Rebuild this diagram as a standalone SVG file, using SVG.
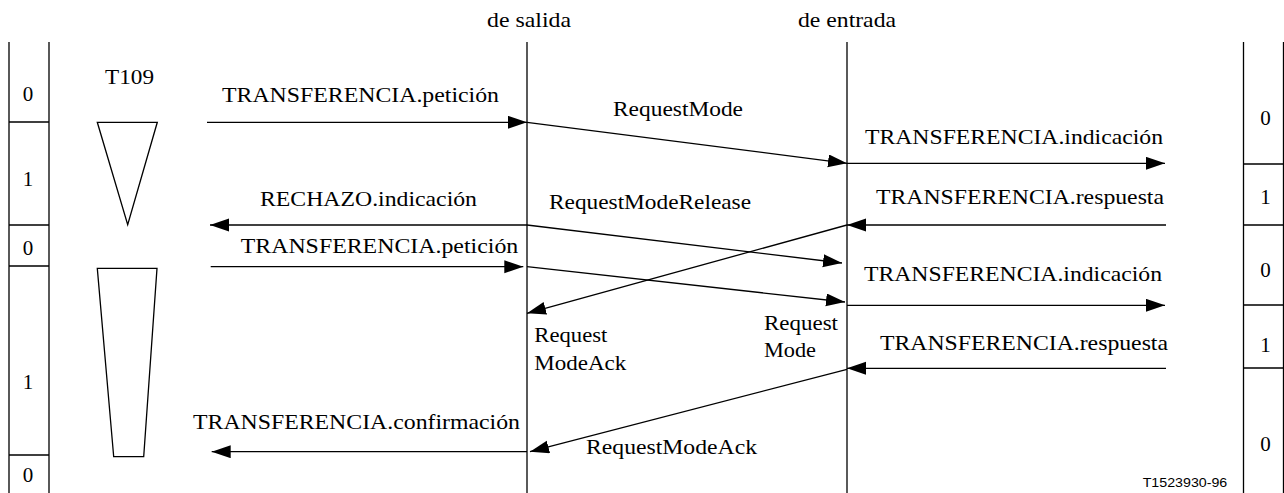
<svg xmlns="http://www.w3.org/2000/svg" width="1284" height="493" viewBox="0 0 1284 493">
<style>
  .ln{stroke:#000;stroke-width:1.3;fill:none}
  .ar{stroke:#000;stroke-width:1.3;fill:none;marker-end:url(#ah)}
  .m{text-anchor:middle}
</style>
<defs>
  <marker id="ah" markerUnits="userSpaceOnUse" markerWidth="20" markerHeight="14" refX="19" refY="6.5" orient="auto">
    <path d="M0,0 L19,6.5 L0,13 z" fill="#000"/>
  </marker>
</defs>
<rect width="1284" height="493" fill="#fff"/>

<g id="left-states" font-family="Liberation Serif, DejaVu Serif, Noto Serif, serif" font-size="21" fill="#000">
  <path class="ln" d="M9,42 V493 M49,42 V493 M9,122 H49 M9,225 H49 M9,266 H49 M9,455 H49"/>
  <text class="m" x="28" y="101">0</text>
  <text class="m" x="28" y="186">1</text>
  <text class="m" x="28" y="255">0</text>
  <text class="m" x="28" y="389">1</text>
  <text class="m" x="28" y="482">0</text>
</g>

<g id="right-states" font-family="Liberation Serif, DejaVu Serif, Noto Serif, serif" font-size="21" fill="#000">
  <path class="ln" d="M1243.5,42 V493 M1283.5,42 V493 M1243.5,164 H1284 M1243.5,225 H1284 M1243.5,305 H1284 M1243.5,368 H1284"/>
  <text class="m" x="1265.5" y="125">0</text>
  <text class="m" x="1265.5" y="204">1</text>
  <text class="m" x="1265.5" y="277">0</text>
  <text class="m" x="1265.5" y="352">1</text>
  <text class="m" x="1265.5" y="451">0</text>
</g>

<g id="timer-T109" font-family="Liberation Serif, DejaVu Serif, Noto Serif, serif" font-size="21" fill="#000">
  <text x="105" y="84" textLength="49" lengthAdjust="spacingAndGlyphs">T109</text>
  <path class="ln" d="M97.3,122.3 L157.3,122.3 L127.7,224.7 Z"/>
  <path class="ln" d="M97.3,268.3 L157,268.3 L143.7,456.7 L113.7,456.7 Z"/>
</g>

<g id="lifeline-salida" font-family="Liberation Serif, DejaVu Serif, Noto Serif, serif" font-size="21" fill="#000">
  <text x="487" y="27" textLength="84" lengthAdjust="spacingAndGlyphs">de salida</text>
  <path class="ln" d="M527,42 V493"/>
</g>

<g id="lifeline-entrada" font-family="Liberation Serif, DejaVu Serif, Noto Serif, serif" font-size="21" fill="#000">
  <text x="798" y="27" textLength="98" lengthAdjust="spacingAndGlyphs">de entrada</text>
  <path class="ln" d="M847,42 V493"/>
</g>

<g id="connectors">
  <path class="ar" d="M207,122.3 H527"/>
  <path class="ar" d="M527,122.3 L847,163.3"/>
  <path class="ar" d="M847,163.3 H1165"/>
  <path class="ar" d="M1166,225 H847"/>
  <path class="ar" d="M847,225 L527,313.3"/>
  <path class="ar" d="M527,225 H210"/>
  <path class="ar" d="M527,225 L842,263"/>
  <path class="ar" d="M210.7,266.7 H523.3"/>
  <path class="ar" d="M527,266.7 L845,302"/>
  <path class="ar" d="M847,305.3 H1165"/>
  <path class="ar" d="M1166,368.3 H847"/>
  <path class="ar" d="M847,369.3 L530,451.7"/>
  <path class="ar" d="M527,451.7 H211.7"/>
</g>

<g id="labels" font-family="Liberation Serif, DejaVu Serif, Noto Serif, serif" font-size="21" fill="#000">
  <text x="222" y="101.5" textLength="277" lengthAdjust="spacingAndGlyphs">TRANSFERENCIA.petición</text>
  <text x="613" y="116" textLength="130" lengthAdjust="spacingAndGlyphs">RequestMode</text>
  <text x="865" y="144" textLength="298" lengthAdjust="spacingAndGlyphs">TRANSFERENCIA.indicación</text>
  <text x="260" y="205.5" textLength="217" lengthAdjust="spacingAndGlyphs">RECHAZO.indicación</text>
  <text x="549" y="209" textLength="202" lengthAdjust="spacingAndGlyphs">RequestModeRelease</text>
  <text x="876" y="204" textLength="288" lengthAdjust="spacingAndGlyphs">TRANSFERENCIA.respuesta</text>
  <text x="240.7" y="252.7" textLength="277.6" lengthAdjust="spacingAndGlyphs">TRANSFERENCIA.petición</text>
  <text x="864" y="281" textLength="298" lengthAdjust="spacingAndGlyphs">TRANSFERENCIA.indicación</text>
  <text x="764" y="330" textLength="74" lengthAdjust="spacingAndGlyphs">Request</text>
  <text x="764" y="357" textLength="52" lengthAdjust="spacingAndGlyphs">Mode</text>
  <text x="534.3" y="341.7" textLength="73" lengthAdjust="spacingAndGlyphs">Request</text>
  <text x="534.3" y="370" textLength="92" lengthAdjust="spacingAndGlyphs">ModeAck</text>
  <text x="880" y="350" textLength="288" lengthAdjust="spacingAndGlyphs">TRANSFERENCIA.respuesta</text>
  <text x="193" y="429" textLength="327" lengthAdjust="spacingAndGlyphs">TRANSFERENCIA.confirmación</text>
  <text x="586" y="454.3" textLength="171" lengthAdjust="spacingAndGlyphs">RequestModeAck</text>
</g>
<g id="figure-id" font-family="Liberation Sans, Arial, sans-serif" font-size="13" fill="#000">
  <text x="1142.7" y="486.7" textLength="84.6" lengthAdjust="spacingAndGlyphs">T1523930-96</text>
</g>
</svg>
